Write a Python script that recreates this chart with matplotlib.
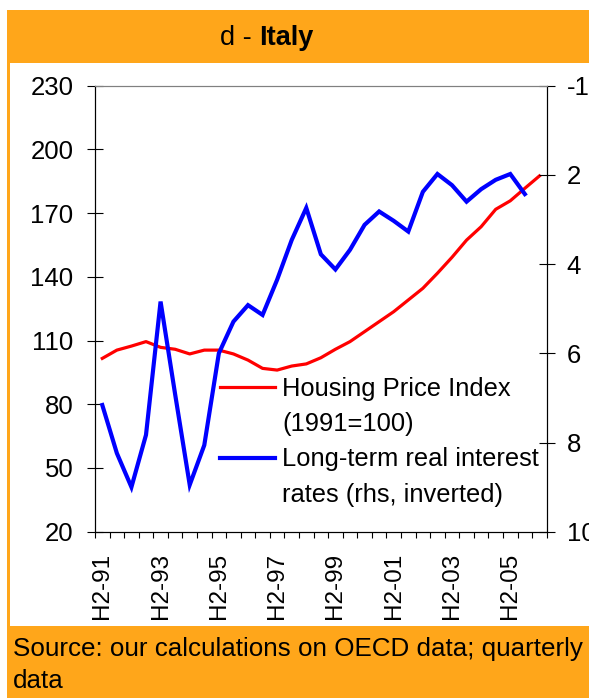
import matplotlib.pyplot as plt
from matplotlib.lines import Line2D
from matplotlib.patches import Rectangle

plt.rcParams['font.family'] = ['Liberation Sans', 'DejaVu Sans']

# half-year categories, H2-91 .. H2-06
periods = ['H2-91', 'H1-92', 'H2-92', 'H1-93', 'H2-93', 'H1-94', 'H2-94', 'H1-95',
           'H2-95', 'H1-96', 'H2-96', 'H1-97', 'H2-97', 'H1-98', 'H2-98', 'H1-99',
           'H2-99', 'H1-00', 'H2-00', 'H1-01', 'H2-01', 'H1-02', 'H2-02', 'H1-03',
           'H2-03', 'H1-04', 'H2-04', 'H1-05', 'H2-05', 'H1-06', 'H2-06']

# housing price index (lhs)
house_price = [101.6, 105.5, 107.4, 109.5, 106.8, 105.9, 103.7, 105.5, 105.5, 103.7,
               100.8, 96.9, 96.1, 98.0, 99.0, 101.9, 105.9, 109.5, 114.2, 118.9,
               123.6, 129.1, 134.6, 141.7, 149.2, 157.3, 163.6, 171.8, 175.8, 181.7,
               187.5]

# long-term real interest rates (rhs, inverted), no value for the last period
real_rate = [7.16, 8.24, 9.0, 7.83, 4.84, 6.92, 8.95, 8.06, 6.0, 5.29,
             4.92, 5.14, 4.35, 3.46, 2.74, 3.78, 4.12, 3.68, 3.12, 2.82,
             3.03, 3.27, 2.38, 1.98, 2.23, 2.6, 2.32, 2.11, 1.98, 2.43]

left_ticks = [20, 50, 80, 110, 140, 170, 200, 230]
right_ticks = [0, 2, 4, 6, 8, 10]
right_labels = ['-1', '2', '4', '6', '8', '10']

orange = '#FFA61A'
W, H = 589, 698

def fx(px):
    return px / W

def fy(py):
    return 1 - py / H

fig = plt.figure(figsize=(5.89, 6.98), dpi=100)
fig.patch.set_facecolor('white')

# orange frame: title band, footer band, thin left border
fig.patches.append(Rectangle((fx(7), fy(63)), fx(W - 7), 53 / H, transform=fig.transFigure,
                             facecolor=orange, edgecolor='none', zorder=0))
fig.patches.append(Rectangle((fx(7), 0), fx(W - 7), (H - 626) / H, transform=fig.transFigure,
                             facecolor=orange, edgecolor='none', zorder=0))
fig.patches.append(Rectangle((fx(7), 0), fx(3), 1 - 10 / H, transform=fig.transFigure,
                             facecolor=orange, edgecolor='none', zorder=0))

# title
fig.text(fx(252), fy(45), 'd -', ha='right', va='baseline', fontsize=19.5)
fig.text(fx(259), fy(45), 'Italy', ha='left', va='baseline', fontsize=19.5, fontweight='bold')

# footer
fig.text(fx(13), fy(656), 'Source: our calculations on OECD data; quarterly',
         ha='left', va='baseline', fontsize=18.7)
fig.text(fx(13), fy(688), 'data', ha='left', va='baseline', fontsize=18.7)

ax = fig.add_axes([fx(95), fy(531.7), fx(451.7), 446 / H])
ax.set_facecolor('none')
x = list(range(len(periods)))
l1, = ax.plot(x, house_price, color='#FF0000', lw=2.3, solid_joinstyle='round')
ax.set_xlim(-0.5, len(periods) - 0.5)
ax.set_ylim(20, 230)
ax.set_yticks(left_ticks)
ax.tick_params(axis='y', direction='inout', length=11.5, width=0.8, pad=9.7, labelsize=18.5)

# boundary ticks (major, no labels) and labels at every 4th category (minor, no tick)
ax.set_xticks([i - 0.5 for i in range(len(periods) + 1)])
ax.set_xticklabels([])
ax.set_xticks(x[::4], minor=True)
ax.set_xticklabels(periods[::4], minor=True, rotation=90)
ax.tick_params(axis='x', which='major', direction='out', length=4.3, width=0.8)
ax.tick_params(axis='x', which='minor', length=0, pad=15.0, labelsize=17.5)
for s in ['left', 'bottom', 'right']:
    ax.spines[s].set_linewidth(0.8)
ax.spines['top'].set_color('#808080')
ax.spines['top'].set_linewidth(0.8)

ax2 = ax.twinx()
l2, = ax2.plot(x[:len(real_rate)], real_rate, color='#0000FF', lw=3.0, solid_joinstyle='miter')
ax2.set_ylim(10, 0)
ax2.set_yticks(right_ticks)
ax2.set_yticklabels(right_labels)
ax2.tick_params(axis='y', direction='inout', length=11.5, width=0.8, pad=8.6, labelsize=18.5)
for s in ['left', 'bottom', 'right']:
    ax2.spines[s].set_linewidth(0.8)
ax2.spines['top'].set_color('#808080')
ax2.spines['top'].set_linewidth(0.8)

blank = Line2D([], [], color='none')
leg = ax2.legend([l1, blank, l2, blank],
                 ['Housing Price Index', '(1991=100)', 'Long-term real interest', 'rates (rhs, inverted)'],
                 loc='upper left', bbox_to_anchor=(0.277, (531.7 - 377) / 446),
                 frameon=False, fontsize=18.4, handlelength=2.15, handletextpad=0.27,
                 borderpad=0, borderaxespad=0, labelspacing=0.44)

fig.savefig('out.png', dpi=100, facecolor=fig.get_facecolor())
